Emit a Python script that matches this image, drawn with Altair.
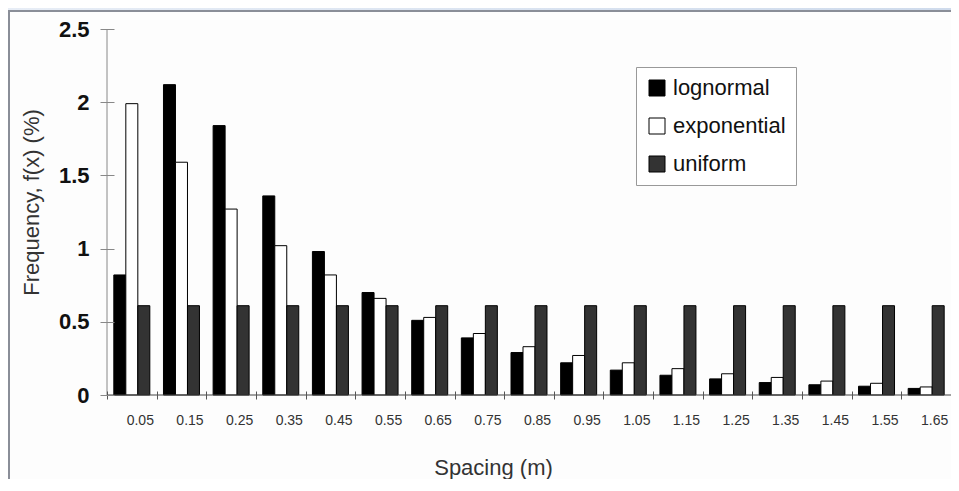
import altair as alt
import pandas as pd

# ---- data ----
spacing = ["0.05", "0.15", "0.25", "0.35", "0.45", "0.55", "0.65", "0.75", "0.85",
           "0.95", "1.05", "1.15", "1.25", "1.35", "1.45", "1.55", "1.65"]
lognormal = [0.82, 2.12, 1.84, 1.36, 0.98, 0.70, 0.51, 0.39, 0.29,
             0.22, 0.17, 0.135, 0.11, 0.085, 0.07, 0.06, 0.045]
exponential = [1.99, 1.59, 1.27, 1.02, 0.82, 0.66, 0.53, 0.42, 0.33,
               0.27, 0.22, 0.18, 0.145, 0.12, 0.095, 0.08, 0.055]
uniform = [0.61] * 17
series_names = ["lognormal", "exponential", "uniform"]
series_colors = ["#000000", "#ffffff", "#333333"]
y_ticks = [0, 0.5, 1, 1.5, 2, 2.5]

rows = []
for name, vals in zip(series_names, [lognormal, exponential, uniform]):
    for s, v in zip(spacing, vals):
        rows.append({"spacing": s, "series": name, "value": v})
df = pd.DataFrame(rows)

W, H = 844, 366
step = W / len(spacing)
p_in = 0.275
p_out = p_in / 2
tick_off = -p_out * step
FONT = "Liberation Sans"

one = alt.Data(values=[{"k": 0}])

bg = alt.Chart(one).mark_rect(
    fill=alt.Gradient(gradient="linear",
                      stops=[alt.GradientStop(color="#e7edf6", offset=0),
                             alt.GradientStop(color="#cfdbec", offset=1)],
                      x1=0, x2=1, y1=0, y2=0)
).encode(x=alt.value(-99), x2=alt.value(W + 1), y=alt.value(-21), y2=alt.value(H + 90))

panel = alt.Chart(one).mark_rect(fill="#fdfdfd", stroke="#8a8e98", strokeWidth=2).encode(
    x=alt.value(-98), x2=alt.value(W + 20), y=alt.value(-18), y2=alt.value(H + 120))

bars = alt.Chart(df).mark_bar(stroke="black", strokeWidth=1).encode(
    x=alt.X("spacing:N", sort=spacing,
            scale=alt.Scale(paddingInner=p_in, paddingOuter=p_out),
            axis=alt.Axis(title="Spacing (m)", labelAngle=0, offset=-4, tickSize=8,
                          domain=False, bandPosition=0, tickOffset=tick_off,
                          labelOffset=-tick_off + 8, tickExtra=False, zindex=1,
                          tickColor="#555", labelColor="#333", labelFontSize=14,
                          labelFont=FONT, labelPadding=14,
                          labelOverlap=False,
                          titleFont=FONT, titleFontSize=22, titleFontWeight="normal",
                          titleColor="#333", titleX=386, titleY=76,
                          titleAlign="center", titleBaseline="middle")),
    xOffset=alt.XOffset("series:N", sort=series_names,
                        scale=alt.Scale(paddingInner=0, paddingOuter=0)),
    y=alt.Y("value:Q", scale=alt.Scale(domain=[0, 2.5], nice=False),
            axis=alt.Axis(title="Frequency, f(x) (%)", values=y_ticks, format="~g",
                          offset=-7, tickSize=14, domain=False, grid=False,
                          labelPadding=11, labelFontSize=22, labelFont=FONT,
                          labelColor="#111", labelFontWeight="bold", tickColor="#888",
                          zindex=1, titleFont=FONT, titleFontSize=22,
                          titleFontWeight="normal", titleColor="#333",
                          titleX=-83, titleY=173, titleAngle=270,
                          titleAlign="center", titleBaseline="middle")),
    color=alt.Color("series:N", title=None,
                    scale=alt.Scale(domain=series_names, range=series_colors),
                    legend=alt.Legend(orient="none", legendX=529, legendY=38,
                                      symbolType="square", symbolSize=256,
                                      symbolStrokeColor="black", symbolStrokeWidth=1,
                                      labelFont=FONT, labelFontSize=22, labelColor="#111",
                                      labelOffset=5, rowPadding=16, padding=10,
                                      strokeColor="#999", fillColor="white")),
)

yline = alt.Chart(one).mark_rule(color="#888", strokeWidth=1).encode(
    x=alt.value(0), y=alt.value(0), y2=alt.value(H))
xline = alt.Chart(one).mark_rule(color="#444", strokeWidth=1).encode(
    x=alt.value(0), x2=alt.value(W), y=alt.value(H))

chart = alt.layer(bg, panel, bars, yline, xline).properties(
    width=W, height=H,
    autosize=alt.AutoSizeParams(type="none"),
    padding={"left": 99, "top": 21, "right": 0, "bottom": 84},
    background="#e7edf6",
).configure_view(stroke=None)

chart.save("out.html", embed_options={"renderer": "svg", "actions": False})
